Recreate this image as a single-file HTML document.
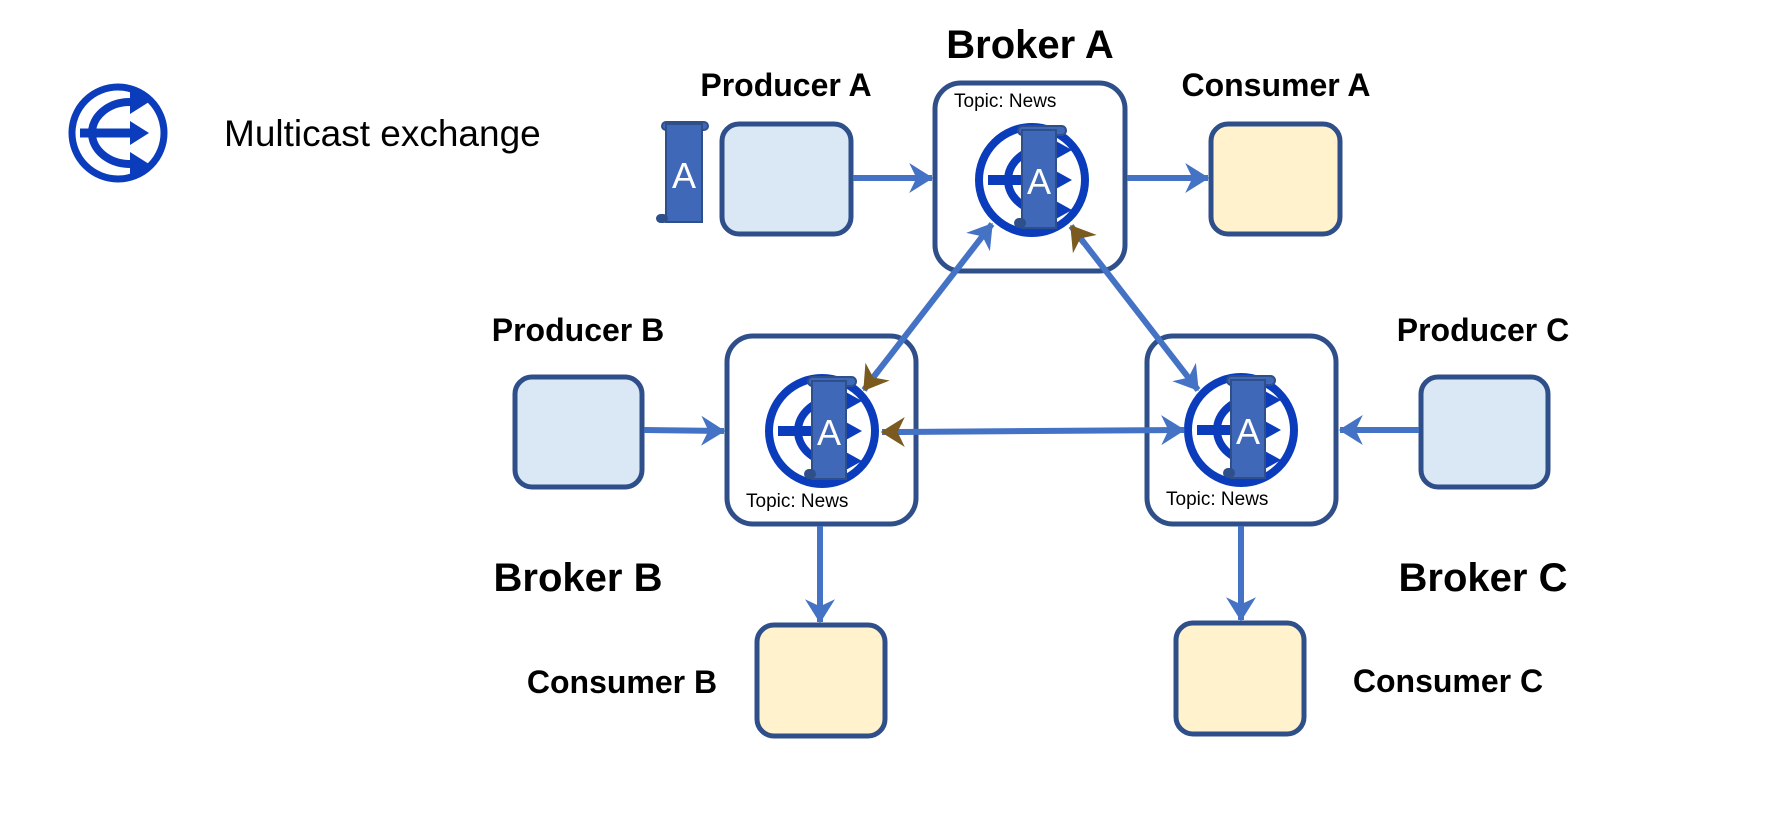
<!DOCTYPE html>
<html><head><meta charset="utf-8"><style>
html,body{margin:0;padding:0;background:#fff;}
svg{display:block;}
text{font-family:"Liberation Sans",sans-serif;}
</style></head><body>
<svg width="1774" height="832" viewBox="0 0 1774 832" xmlns="http://www.w3.org/2000/svg">
<defs>
  <g id="ex">
    <circle cx="0" cy="0" r="46" fill="#fff" stroke="#0a3cbc" stroke-width="7"/>
    <rect x="-38" y="-4.5" width="52" height="9" fill="#0a3cbc"/>
    <path d="M 12 -31 A 38 31 0 0 0 12 31" fill="none" stroke="#0a3cbc" stroke-width="8"/>
    <polygon points="12,-12 31,0 12,12" fill="#0a3cbc"/>
    <polygon points="12,-43 31,-31 12,-19" fill="#0a3cbc"/>
    <polygon points="12,19 31,31 12,43" fill="#0a3cbc"/>
  </g>
  <g id="bex">
    <circle cx="0" cy="0" r="53" fill="#fff" stroke="#0a3cbc" stroke-width="8"/>
    <rect x="-44" y="-5" width="40" height="10" fill="#0a3cbc"/>
    <path d="M 14 -32 A 38 32 0 0 0 14 32" fill="none" stroke="#0a3cbc" stroke-width="8"/>
    <polygon points="22,-40 40,-30 22,-20" fill="#0a3cbc"/>
    <polygon points="22,-10 40,0 22,10" fill="#0a3cbc"/>
    <polygon points="22,20 40,30 22,40" fill="#0a3cbc"/>
    <rect x="-14" y="-54" width="48" height="9" rx="4.5" fill="#4068b8" stroke="#2f4f8a" stroke-width="2"/>
    <rect x="-10" y="-50" width="34" height="98" fill="#4068b8" stroke="#2f4f8a" stroke-width="2"/>
    <rect x="-18" y="38" width="12" height="10" rx="5" fill="#2f4f8a"/>
    <text x="7" y="14" font-size="36" fill="#fff" text-anchor="middle">A</text>
  </g>
  <marker id="ab" markerWidth="5" markerHeight="5" refX="3.8" refY="2.5" orient="auto" markerUnits="strokeWidth">
    <path d="M0,0 L4,2.5 L0,5 L1.2,2.5 Z" fill="#4472c4"/>
  </marker>
  <marker id="ar" markerWidth="5" markerHeight="5" refX="3.8" refY="2.5" orient="auto" markerUnits="strokeWidth">
    <path d="M0,0 L4,2.5 L0,5 L1.2,2.5 Z" fill="#7a5a1e"/>
  </marker>
</defs>

<!-- legend -->
<use href="#ex" x="118" y="133"/>
<text x="224" y="146" font-size="37" fill="#000">Multicast exchange</text>

<!-- labels -->
<g font-weight="bold" fill="#000" text-anchor="middle">
  <text x="1030" y="58" font-size="40">Broker A</text>
  <text x="786" y="96" font-size="32">Producer A</text>
  <text x="1276" y="96" font-size="32">Consumer A</text>
  <text x="578" y="341" font-size="32">Producer B</text>
  <text x="1483" y="341" font-size="32">Producer C</text>
  <text x="578" y="591" font-size="40">Broker B</text>
  <text x="1483" y="591" font-size="40">Broker C</text>
  <text x="622" y="693" font-size="32">Consumer B</text>
  <text x="1448" y="692" font-size="32">Consumer C</text>
</g>

<!-- boxes -->
<g stroke="#2f4f8a" stroke-width="5">
  <rect x="722" y="124" width="129" height="110" rx="17" fill="#dae7f5"/>
  <rect x="1211" y="124" width="129" height="110" rx="17" fill="#fff2cc"/>
  <rect x="515" y="377" width="127" height="110" rx="17" fill="#dae7f5"/>
  <rect x="1421" y="377" width="127" height="110" rx="17" fill="#dae7f5"/>
  <rect x="757" y="625" width="128" height="111" rx="17" fill="#fff2cc"/>
  <rect x="1176" y="623" width="128" height="111" rx="17" fill="#fff2cc"/>
  <rect x="935" y="83" width="190" height="188" rx="26" fill="#fff"/>
  <rect x="727" y="336" width="189" height="188" rx="26" fill="#fff"/>
  <rect x="1147" y="336" width="189" height="188" rx="26" fill="#fff"/>
</g>

<!-- producer A message scroll -->
<rect x="662" y="122" width="46" height="8" rx="4" fill="#4068b8" stroke="#2f4f8a" stroke-width="2"/>
<rect x="666" y="124" width="36" height="98" fill="#4068b8" stroke="#2f4f8a" stroke-width="2"/>
<rect x="656" y="214" width="12" height="9" rx="4.5" fill="#2f4f8a"/>
<text x="684" y="188" font-size="36" fill="#fff" text-anchor="middle">A</text>

<!-- topic labels -->
<g font-size="19" fill="#000">
  <text x="954" y="107">Topic: News</text>
  <text x="746" y="507">Topic: News</text>
  <text x="1166" y="505">Topic: News</text>
</g>

<!-- exchanges -->
<use href="#bex" x="1032" y="180"/>
<use href="#bex" x="822" y="431"/>
<use href="#bex" x="1241" y="430"/>

<!-- connectors -->
<g stroke="#4472c4" stroke-width="6" fill="none">
  <line x1="853" y1="178" x2="932" y2="178" marker-end="url(#ab)"/>
  <line x1="1127" y1="178" x2="1208" y2="178" marker-end="url(#ab)"/>
  <line x1="644" y1="430" x2="724" y2="431" marker-end="url(#ab)"/>
  <line x1="1419" y1="430" x2="1340" y2="430" marker-end="url(#ab)"/>
  <line x1="820" y1="526" x2="820" y2="622" marker-end="url(#ab)"/>
  <line x1="1241" y1="526" x2="1241" y2="620" marker-end="url(#ab)"/>
  <line x1="900" y1="432" x2="1184" y2="430" marker-end="url(#ab)"/>
  <line x1="906" y1="432" x2="882" y2="432" marker-end="url(#ar)"/>
  <line x1="872" y1="379" x2="992" y2="224" marker-end="url(#ab)"/>
  <line x1="878" y1="371" x2="864" y2="390" marker-end="url(#ar)"/>
  <line x1="1078" y1="235" x2="1198" y2="390" marker-end="url(#ab)"/>
  <line x1="1084" y1="243" x2="1071" y2="226" marker-end="url(#ar)"/>
</g>
</svg>
</body></html>
